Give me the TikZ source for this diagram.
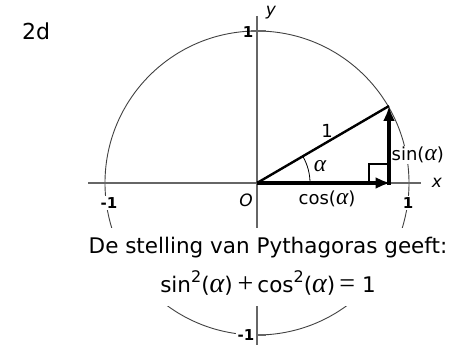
\documentclass[tikz,border=0pt]{standalone}
\usepackage{fontspec}
\setmainfont{DejaVu Sans}
\newfontfamily\grk[Scale=1.3]{Liberation Serif}
\usetikzlibrary{arrows.meta}
\newcommand{\alf}{{\grk\itshape α}}
\newcommand{\sqr}{\raisebox{0.5em}{\fontsize{16}{16}\selectfont 2}}
\begin{document}
\begin{tikzpicture}[x=1pt,y=-1pt,
  axis/.style={draw=black!60, line width=1.2pt},
  circ/.style={draw=black!75, line width=0.9pt},
  vec/.style={line width=4pt, -{Latex[length=15pt,width=12pt]}},
  lbl/.style={inner sep=1pt, font=\fontsize{18}{20}\selectfont},
  axlbl/.style={inner sep=1pt, font=\itshape\fontsize{17}{18}\selectfont},
  ticklbl/.style={fill=white, inner sep=2pt, font=\bfseries\fontsize{15}{16}\selectfont},
  bigtxt/.style={fill=white, align=center, inner xsep=2pt, inner ysep=0pt, minimum height=78pt, font=\fontsize{21.5}{39}\selectfont}]
\useasboundingbox (0,0) rectangle (456,345);
\coordinate (O) at (257,183);
\coordinate (C) at (389,183);
\coordinate (P) at (389,106);
\coordinate (XL) at (88,183);
\coordinate (XR) at (421,183);
\coordinate (YT) at (257,16);
\coordinate (YB) at (257,345);
% circle and axes
\draw[circ] (O) circle (152pt);
\draw[axis] (XL) -- (XR);
\draw[axis] (YT) -- (YB);
% ticks
\draw[axis] (251,31) -- (266,31);
\draw[axis] (251,335) -- (266,335);
% angle arc
\draw[line width=0.8pt] (O) ++(53,0) arc (0:-30:53);
% right-angle box
\draw[line width=2pt] (369,183) -- (369,164) -- (389,164);
% hypotenuse and vectors
\draw[line width=2.4pt] (O) -- (P);
\draw[vec] (O) -- ([xshift=1.5pt]C);
\draw[vec, shorten <=-2pt] (C) -- (P);
% labels
\node[font=\fontsize{22}{24}\selectfont, anchor=west, inner sep=0pt] (lab2d) at (22,31) {2d};
\node[axlbl] (laby) at (271,13) {y};
\node[axlbl] (labx) at (437,183) {x};
\node[axlbl] (labO) at (246,200) {O};
\node[ticklbl] (labmx) at (109,203) {-1};
\node[ticklbl] (labpx) at (408,203) {1};
\node[ticklbl, fill=none] (labpy) at (248,32) {1};
\node[ticklbl] (labmy) at (246,335) {-1};
\node[lbl] (lab1) at (327,131) {1};
\node[lbl] (laba) at (320,166) {\alf};
\node[lbl, fill=white, anchor=west, inner sep=0.5pt] (labsin) at (391,155) {sin(\alf)};
\node[lbl] (labcos) at (327,199) {cos(\alf)};
\node[bigtxt] (txt) at (268,266.5) {De stelling van Pythagoras geeft:\\sin\sqr(\alf)\hspace{5pt}{\grk +}\hspace{4pt}cos\sqr(\alf)\hspace{4pt}{\grk =}\hspace{7pt}1};
\end{tikzpicture}
\end{document}
